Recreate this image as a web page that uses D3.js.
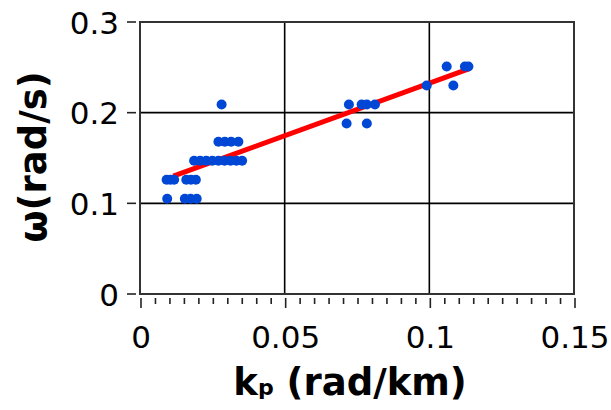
<!DOCTYPE html>
<html>
<head>
<meta charset="utf-8">
<script src="https://cdn.jsdelivr.net/npm/d3@7"></script>
<style>
html, body { margin: 0; padding: 0; background: #fff; }
svg { display: block; }
</style>
</head>
<body>
<svg id="chart" width="611" height="410"></svg>
<script>
// ---- data ----
const pointK = [0.0094, 0.0155, 0.0175, 0.0196,
                0.0092, 0.0105, 0.0118, 0.0160, 0.0176, 0.0193,
                0.0187, 0.0208, 0.0229, 0.0250, 0.0271, 0.0292, 0.0313, 0.0333, 0.0353,
                0.0271, 0.0293, 0.0315, 0.0340,
                0.0282,
                0.0714, 0.0784,
                0.0722, 0.0766, 0.0784, 0.0812,
                0.0991, 0.1083,
                0.1060, 0.1123, 0.1135];
const pointW = [0.105, 0.105, 0.105, 0.105,
                0.126, 0.126, 0.126, 0.126, 0.126, 0.126,
                0.147, 0.147, 0.147, 0.147, 0.147, 0.147, 0.147, 0.147, 0.147,
                0.168, 0.168, 0.168, 0.168,
                0.209,
                0.188, 0.188,
                0.209, 0.209, 0.209, 0.209,
                0.230, 0.230,
                0.251, 0.251, 0.251];
const fitK = [0.0115, 0.1141];
const fitW = [0.1300, 0.2489];
const xTicks = [0, 0.05, 0.1, 0.15];
const xTickLabels = ["0", "0.05", "0.1", "0.15"];
const yTicks = [0, 0.1, 0.2, 0.3];
const yTickLabels = ["0", "0.1", "0.2", "0.3"];
const xMinorTicks = d3.range(0, 0.1501, 0.005);

// ---- layout ----
const svg = d3.select("#chart");
const pL = 140, pR = 574, pT = 22, pB = 294;
const x = d3.scaleLinear().domain([0, 0.15]).range([pL, pR]);
const y = d3.scaleLinear().domain([0, 0.3]).range([pB, pT]);

// grid
const g = svg.append("g");
g.selectAll("line.vg").data(xTicks.slice(1, -1)).join("line")
  .attr("class", "vg")
  .attr("x1", d => x(d)).attr("x2", d => x(d))
  .attr("y1", pT).attr("y2", pB)
  .attr("stroke", "#000").attr("stroke-width", 1.6);
g.selectAll("line.hg").data(yTicks.slice(1, -1)).join("line")
  .attr("class", "hg")
  .attr("x1", pL).attr("x2", pR)
  .attr("y1", d => y(d)).attr("y2", d => y(d))
  .attr("stroke", "#000").attr("stroke-width", 1.6);

// fit line
svg.append("line")
  .attr("x1", x(fitK[0])).attr("y1", y(fitW[0]))
  .attr("x2", x(fitK[1])).attr("y2", y(fitW[1]))
  .attr("stroke", "#ff0000").attr("stroke-width", 5);

// points
const pts = pointK.map((k, i) => ({k, w: pointW[i]}));
svg.append("g").selectAll("circle").data(pts).join("circle")
  .attr("cx", d => x(d.k)).attr("cy", d => y(d.w)).attr("r", 5)
  .attr("fill", "#0047d6");

// frame
svg.append("rect")
  .attr("x", pL).attr("y", pT)
  .attr("width", pR - pL).attr("height", pB - pT)
  .attr("fill", "none").attr("stroke", "#333").attr("stroke-width", 2);

// x ticks (below frame)
const xt = svg.append("g");
xt.selectAll("line").data(xMinorTicks).join("line")
  .attr("x1", d => x(d) + 1).attr("x2", d => x(d) + 1)
  .attr("y1", 298)
  .attr("y2", (d, i) => (i % 10 === 0) ? 308 : 304)
  .attr("stroke", "#222").attr("stroke-width", 1.6);
xt.selectAll("text").data(xTicks).join("text")
  .attr("x", d => x(d) + 1).attr("y", 348)
  .attr("text-anchor", "middle")
  .attr("font-family", "DejaVu Sans, Verdana, sans-serif")
  .attr("font-size", 31)
  .attr("fill", "#000")
  .text((d, i) => xTickLabels[i]);

// y ticks
const yt = svg.append("g");
yt.selectAll("line").data(yTicks).join("line")
  .attr("x1", 127).attr("x2", 136)
  .attr("y1", d => y(d)).attr("y2", d => y(d))
  .attr("stroke", "#222").attr("stroke-width", 1.6);
yt.selectAll("text").data(yTicks).join("text")
  .attr("x", 119).attr("y", d => y(d))
  .attr("dy", "0.38em")
  .attr("text-anchor", "end")
  .attr("font-family", "DejaVu Sans, Verdana, sans-serif")
  .attr("font-size", 31)
  .attr("fill", "#000")
  .text((d, i) => yTickLabels[i]);

// axis titles
const xTitle = svg.append("text")
  .attr("x", 350).attr("y", 395)
  .attr("text-anchor", "middle")
  .attr("font-family", "DejaVu Sans, Verdana, sans-serif")
  .attr("font-weight", "bold")
  .attr("font-size", 37)
  .attr("fill", "#000");
xTitle.append("tspan").text("k");
xTitle.append("tspan").attr("font-size", 22).text("p");
xTitle.append("tspan").text(" (rad/km)");

svg.append("text")
  .attr("transform", "translate(46,157) rotate(-90)")
  .attr("text-anchor", "middle")
  .attr("font-family", "DejaVu Sans, Verdana, sans-serif")
  .attr("font-weight", "bold")
  .attr("font-size", 37)
  .attr("fill", "#000")
  .text("ω(rad/s)");
</script>
</body>
</html>
